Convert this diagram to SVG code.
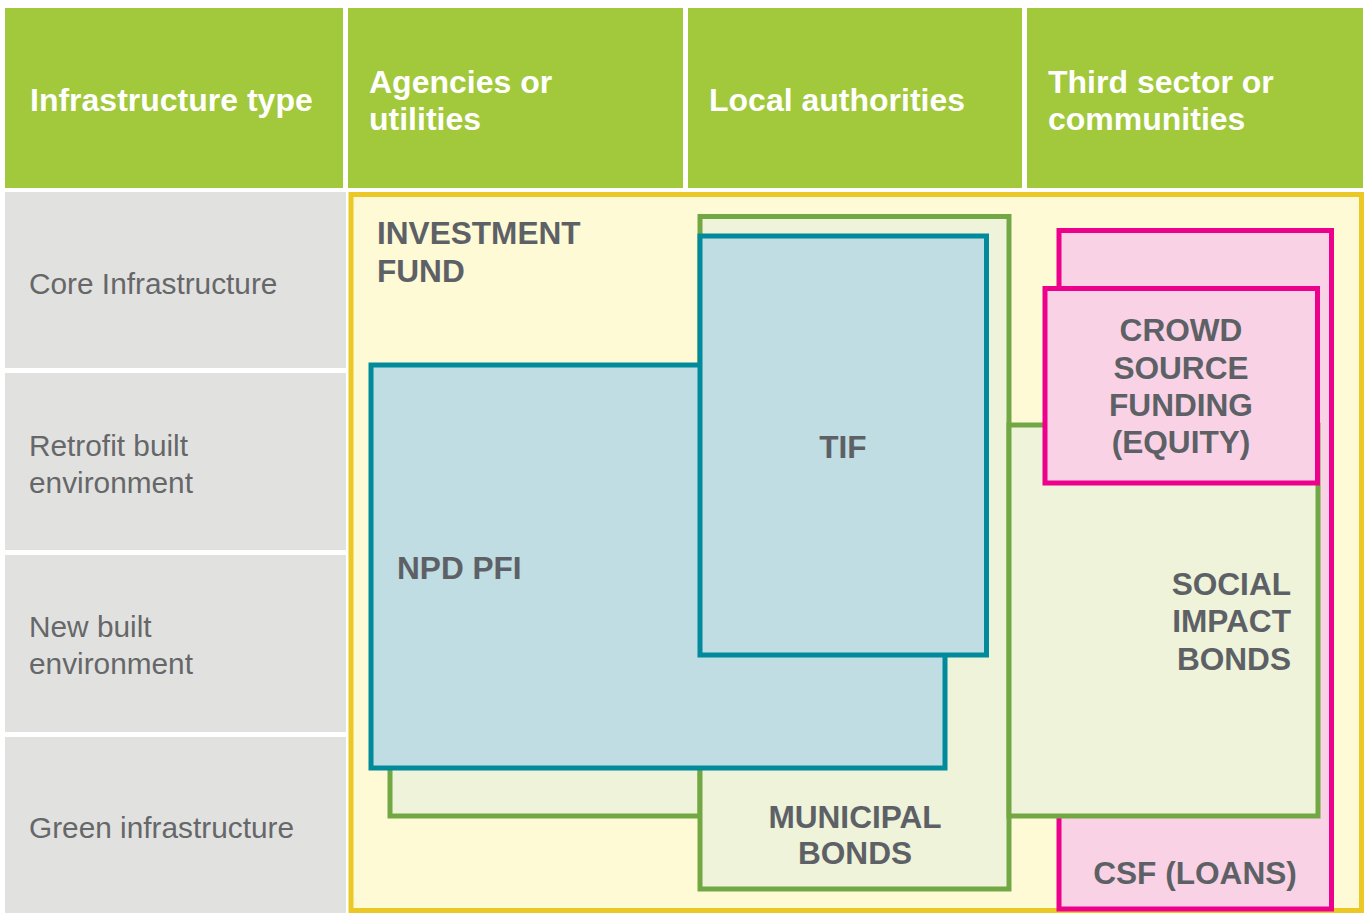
<svg xmlns="http://www.w3.org/2000/svg" width="1368" height="913" viewBox="0 0 1368 913">
<style>
.hdr{fill:#a2c83b}
.hdrt{font-family:"Liberation Sans",Arial,sans-serif;font-weight:bold;font-size:32px;fill:#ffffff}
.row{fill:#e1e2e0}
.rowt{font-family:"Liberation Sans",Arial,sans-serif;font-size:29.8px;fill:#666769}
.lbl{font-family:"Liberation Sans",Arial,sans-serif;font-weight:bold;font-size:31.6px;fill:#5d6166}
.green{fill:#eef3da;stroke:#72a844;stroke-width:5}
.teal{fill:#bfdde2;stroke:#008a9c;stroke-width:5}
.pink{fill:#f9d3e5;stroke:#ec008c;stroke-width:5}
</style>
<rect width="1368" height="913" fill="#ffffff"/>
<g id="headers">
<g id="h-infra"><rect class="hdr" x="5" y="8" width="338" height="180"/><text class="hdrt" x="30" y="111">Infrastructure type</text></g>
<g id="h-agencies"><rect class="hdr" x="348" y="8" width="335" height="180"/><text class="hdrt" x="369" y="93">Agencies or</text><text class="hdrt" x="369" y="130">utilities</text></g>
<g id="h-local"><rect class="hdr" x="688" y="8" width="334" height="180"/><text class="hdrt" x="709" y="111">Local authorities</text></g>
<g id="h-third"><rect class="hdr" x="1027" y="8" width="336" height="180"/><text class="hdrt" x="1048" y="93">Third sector or</text><text class="hdrt" x="1048" y="130">communities</text></g>
</g>
<g id="rows">
<g id="r-core"><rect class="row" x="5" y="192" width="341" height="176"/><text class="rowt" x="29" y="294">Core Infrastructure</text></g>
<g id="r-retrofit"><rect class="row" x="5" y="373" width="341" height="177"/><text class="rowt" x="29" y="456">Retrofit built</text><text class="rowt" x="29" y="493">environment</text></g>
<g id="r-new"><rect class="row" x="5" y="555" width="341" height="177"/><text class="rowt" x="29" y="637">New built</text><text class="rowt" x="29" y="674">environment</text></g>
<g id="r-green"><rect class="row" x="5" y="737" width="341" height="176"/><text class="rowt" x="29" y="838">Green infrastructure</text></g>
</g>
<g id="investment-fund">
<rect x="351" y="194.5" width="1010.5" height="716" fill="#fefad6" stroke="#ecc826" stroke-width="5"/>
<text class="lbl" x="377" y="244">INVESTMENT</text>
<text class="lbl" x="377" y="282">FUND</text>
</g>
<g id="municipal-bonds">
<rect class="green" x="390" y="420" width="310" height="396"/>
<rect class="green" x="700" y="216.5" width="309" height="672.5"/>
<text class="lbl" x="855" y="828" text-anchor="middle">MUNICIPAL</text>
<text class="lbl" x="855" y="864" text-anchor="middle">BONDS</text>
</g>
<g id="csf-loans">
<rect class="pink" x="1059" y="230.5" width="272.5" height="678.5"/>
<text class="lbl" x="1195" y="884" text-anchor="middle">CSF (LOANS)</text>
</g>
<g id="social-impact-bonds">
<rect class="green" x="1009" y="425" width="309" height="391"/>
<text class="lbl" x="1291" y="595" text-anchor="end">SOCIAL</text>
<text class="lbl" x="1291" y="632" text-anchor="end">IMPACT</text>
<text class="lbl" x="1291" y="670" text-anchor="end">BONDS</text>
</g>
<g id="crowd-source-equity">
<rect class="pink" x="1045" y="288.5" width="272.5" height="194.5"/>
<text class="lbl" x="1181" y="341" text-anchor="middle">CROWD</text>
<text class="lbl" x="1181" y="379" text-anchor="middle">SOURCE</text>
<text class="lbl" x="1181" y="416" text-anchor="middle">FUNDING</text>
<text class="lbl" x="1181" y="453" text-anchor="middle">(EQUITY)</text>
</g>
<g id="npd-pfi">
<rect class="teal" x="371" y="365" width="574" height="403"/>
<text class="lbl" x="397" y="579">NPD PFI</text>
</g>
<g id="tif">
<rect class="teal" x="700" y="236" width="286.5" height="419"/>
<text class="lbl" x="843" y="458" text-anchor="middle">TIF</text>
</g>
<g id="connectors"></g>
</svg>
